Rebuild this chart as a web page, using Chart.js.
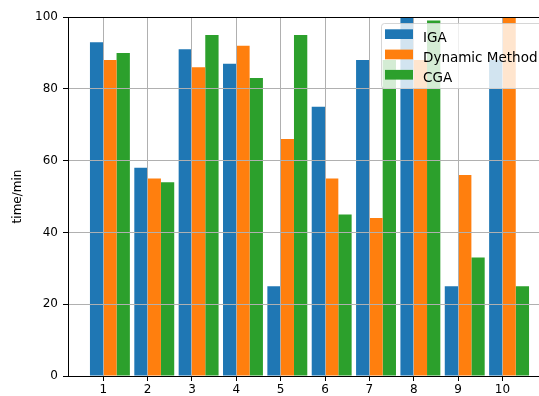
<!DOCTYPE html>
<html>
<head>
<meta charset="utf-8">
<script src="https://cdn.jsdelivr.net/npm/chart.js@4/dist/chart.umd.min.js"></script>
<style>
  html, body { margin: 0; padding: 0; background: #fff; overflow: hidden; }
  #wrap { width: 552px; height: 396px; }
</style>
</head>
<body>
<div id="wrap"><canvas id="c" width="552" height="396"></canvas></div>
<script>
// Run index (1..10) and the time each method needed, in minutes
const runs = [1, 2, 3, 4, 5, 6, 7, 8, 9, 10];
const seriesNames = ['IGA', 'Dynamic Method', 'CGA'];
const igaTimes = [93, 58, 91, 87, 25, 75, 88, 100, 25, 88];
const dynamicTimes = [88, 55, 86, 92, 66, 55, 44, 88, 56, 100];
const cgaTimes = [90, 54, 95, 83, 95, 45, 88, 99, 33, 25];
const yTicks = [0, 20, 40, 60, 80, 100];

const seriesColors = ['#1f77b4', '#ff7f0e', '#2ca02c'];
const FONT = 'DejaVu Sans';

// Each group of three bars starts at its run number (bar width 0.3),
// so the group centre sits 0.15 to the right of the tick.
const GROUP_SHIFT = 0.15;

function toPoints(values) {
  return values.map((v, i) => ({ x: runs[i] + GROUP_SHIFT, y: v }));
}

const allSeries = [igaTimes, dynamicTimes, cgaTimes];
const datasets = allSeries.map((vals, k) => ({
  label: seriesNames[k],
  data: toPoints(vals),
  backgroundColor: seriesColors[k],
  borderWidth: 0,
  categoryPercentage: 0.9,
  barPercentage: 1.0
}));

// Top spine and an in-plot legend box with a translucent white face
const framePlugin = {
  id: 'frameAndLegend',
  afterDraw(chart) {
    const { ctx, chartArea } = chart;
    ctx.save();
    // top spine
    ctx.strokeStyle = '#000';
    ctx.lineWidth = 1;
    ctx.beginPath();
    ctx.moveTo(chartArea.left - 0.5, chartArea.top + 0.5);
    ctx.lineTo(chartArea.right, chartArea.top + 0.5);
    ctx.stroke();

    // legend frame in the upper right corner
    const fx = 381.5, fy = 23.5, fw = 162, fh = 65;
    ctx.beginPath();
    ctx.roundRect(fx, fy, fw, fh, 3);
    ctx.fillStyle = 'rgba(255,255,255,0.8)';
    ctx.fill();
    ctx.strokeStyle = 'rgba(204,204,204,0.8)';
    ctx.stroke();

    ctx.font = '13.5px "' + FONT + '"';
    ctx.textBaseline = 'alphabetic';
    ctx.textAlign = 'left';
    chart.data.datasets.forEach((ds, i) => {
      const base = 41.6 + i * 20.3;
      ctx.fillStyle = ds.backgroundColor;
      ctx.fillRect(385, base - 12.3, 28, 9.7);
      ctx.fillStyle = '#000';
      ctx.fillText(ds.label, 423, base);
    });
    ctx.restore();
  }
};

const tickFont = { family: FONT, size: 12 };

new Chart(document.getElementById('c'), {
  type: 'bar',
  data: { datasets },
  options: {
    responsive: false,
    animation: false,
    devicePixelRatio: 1,
    layout: { padding: { left: 0, right: 1, top: 17, bottom: 0 } },
    plugins: {
      legend: { display: false },
      tooltip: { enabled: false }
    },
    scales: {
      x: {
        type: 'linear',
        offset: false,
        min: 0.205,
        max: 11.095,
        afterBuildTicks(scale) {
          scale.ticks = runs.map(v => ({ value: v }));
        },
        afterFit(scale) { scale.height = 20; },
        ticks: {
          font: tickFont,
          color: '#000',
          padding: 2,
          maxRotation: 0,
          autoSkip: false,
          callback: v => String(v)
        },
        grid: {
          offset: false,
          color: '#b0b0b0',
          lineWidth: 1,
          z: 1,
          tickColor: '#000',
          tickLength: 5,
          tickWidth: 1
        },
        border: { color: '#000', width: 1, z: 2 }
      },
      y: {
        type: 'linear',
        min: 0,
        max: 100,
        afterBuildTicks(scale) {
          scale.ticks = yTicks.map(v => ({ value: v }));
        },
        afterFit(scale) { scale.width = 68; },
        ticks: {
          font: tickFont,
          color: '#000',
          padding: 5
        },
        grid: {
          color: '#b0b0b0',
          lineWidth: 1,
          z: 1,
          tickColor: '#000',
          tickLength: 5,
          tickWidth: 1
        },
        border: { color: '#000', width: 1, z: 2 },
        title: {
          display: true,
          text: 'time/min',
          font: tickFont,
          color: '#000',
          padding: { top: 11, bottom: 0 }
        }
      }
    }
  },
  plugins: [framePlugin]
});
</script>
</body>
</html>
